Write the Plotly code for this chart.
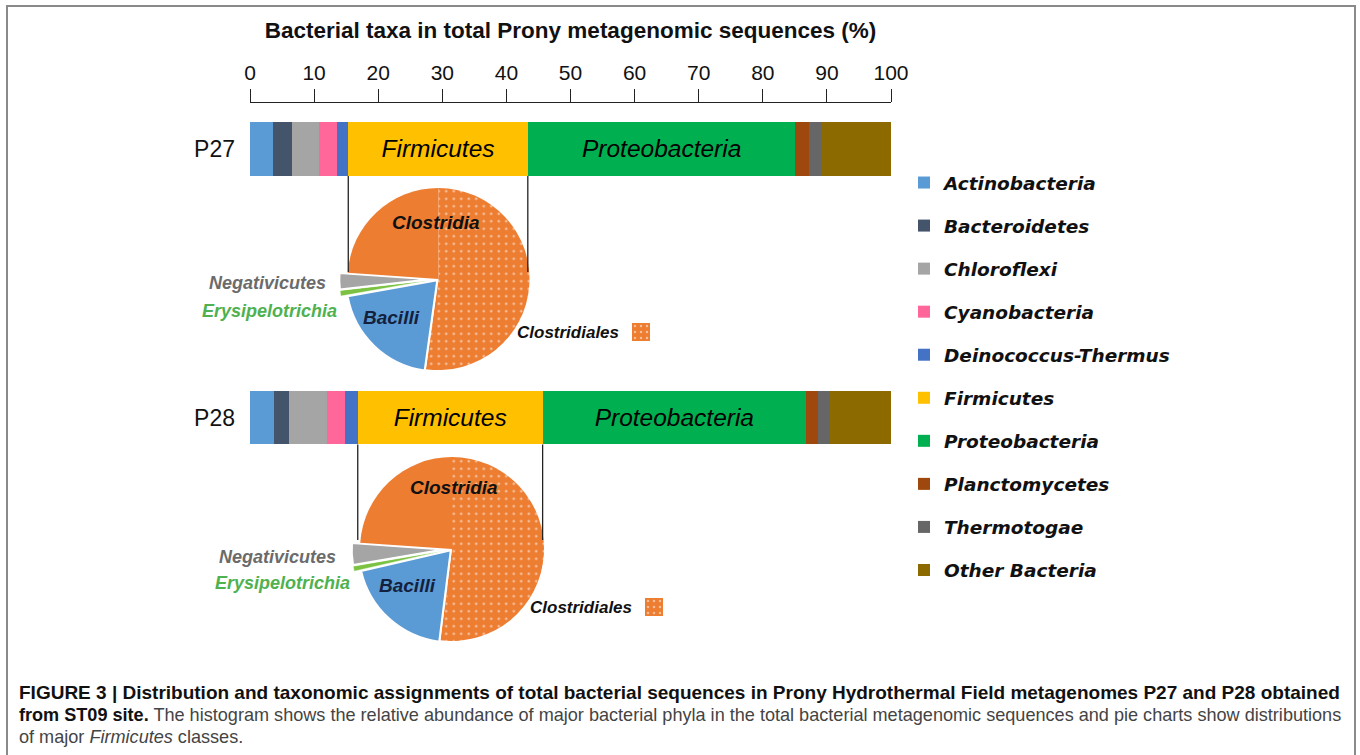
import plotly.graph_objects as go

W, H = 1360, 755

# ---------------- data ----------------
categories = ["P27", "P28"]
phyla = ["Actinobacteria", "Bacteroidetes", "Chloroflexi", "Cyanobacteria",
         "Deinococcus-Thermus", "Firmicutes", "Proteobacteria", "Planctomycetes",
         "Thermotogae", "Other Bacteria"]
p27_values = [3.65, 2.87, 4.22, 2.87, 1.72, 28.01, 41.76, 2.15, 1.79, 10.96]
p28_values = [3.77, 2.39, 5.87, 2.83, 1.95, 28.84, 41.09, 1.81, 1.88, 9.57]
phylum_colors = ["#5B9BD5", "#44546A", "#A5A5A5", "#FF6699", "#4472C4",
                 "#FFC000", "#00B050", "#9E480E", "#666666", "#8C6A00"]
bar_labels = {"Firmicutes": "Firmicutes", "Proteobacteria": "Proteobacteria"}

pie_classes = ["Clostridiales", "Bacilli", "Erysipelotrichia", "Negativicutes", "Clostridia"]
p27_pie = [52.2, 20.0, 1.0, 2.9, 23.9]
p28_pie = [52.0, 19.4, 0.9, 3.8, 23.9]
pie_colors = ["#ED7D31", "#5B9BD5", "#7CC242", "#A5A5A5", "#ED7D31"]

tick_vals = [0, 10, 20, 30, 40, 50, 60, 70, 80, 90, 100]
axis_title = "Bacterial taxa in total Prony metagenomic sequences (%)"

caption_1 = "<span style='color:#111111'><b>FIGURE 3 | Distribution and taxonomic assignments of total bacterial sequences in Prony Hydrothermal Field metagenomes P27 and P28 obtained</b></span>"
caption_2 = "<span style='color:#111111'><b>from ST09 site.</b></span> The histogram shows the relative abundance of major bacterial phyla in the total bacterial metagenomic sequences and pie charts show distributions"
caption_3 = "of major <i>Firmicutes</i> classes."

FONT = "Liberation Sans, Arial, sans-serif"


def px(x):
    return x / W


def py(y):
    return 1 - y / H


fig = go.Figure()

# ---------------- stacked bars ----------------
y_pos = [1, 0]
for i, name in enumerate(phyla):
    txt = bar_labels.get(name, "")
    fig.add_trace(go.Bar(
        y=y_pos, x=[p27_values[i], p28_values[i]], orientation="h",
        name=name, legendgroup=name, marker=dict(color=phylum_colors[i], line=dict(width=0)),
        width=0.201, text=[txt, txt] if txt else None,
        textposition="inside" if txt else "none", insidetextanchor="middle",
        textfont=dict(family=FONT, size=24.5, color="black", style="italic"),
        hoverinfo="skip", xaxis="x", yaxis="y",
    ))

# ---------------- pies ----------------
line_w = [0, 2, 0.5, 2, 0]
pattern_shapes = [".", "", "", "", ""]
pull = [0, 0.02, 0.09, 0.09, 0]


def pie_domain(cx, cy, r, maxpull):
    half = r * (1 + maxpull)
    return dict(x=[px(cx - half), px(cx + half)], y=[py(cy + half), py(cy - half)])


for vals, dom in [(p27_pie, pie_domain(438.5, 279, 91, 0.09)),
                  (p28_pie, pie_domain(452, 549, 92, 0.09))]:
    fig.add_trace(go.Pie(
        labels=pie_classes, values=vals, sort=False, direction="clockwise", rotation=0,
        domain=dom, pull=pull, textinfo="none", hoverinfo="skip", showlegend=False,
        marker=dict(colors=pie_colors, line=dict(color="white", width=line_w),
                    pattern=dict(shape=pattern_shapes, fgcolor="white", bgcolor=pie_colors,
                                 fillmode="overlay", size=7.5, solidity=0.11)),
    ))

# ---------------- Clostridiales key boxes (patterned bars) ----------------
for k, (x0, x1, y0, y1) in enumerate([(632, 650, 323, 341), (645, 663, 598, 616)]):
    ax = k + 2
    fig.add_trace(go.Bar(
        x=[0], y=[1], width=1, showlegend=False, hoverinfo="skip",
        marker=dict(color="#ED7D31", line=dict(width=0),
                    pattern=dict(shape=".", fgcolor="white", size=6, solidity=0.14)),
        xaxis=f"x{ax}", yaxis=f"y{ax}",
    ))
    fig.update_layout(**{
        f"xaxis{ax}": dict(domain=[px(x0), px(x1)], range=[-0.5, 0.5], visible=False,
                           anchor=f"y{ax}", automargin=False),
        f"yaxis{ax}": dict(domain=[py(y1), py(y0)], range=[0, 1], visible=False,
                           anchor=f"x{ax}", automargin=False),
    })

# ---------------- connector lines ----------------
firm_idx = phyla.index("Firmicutes")
shapes = []
for vals, yc, yend in [(p27_values, 1, 0.542), (p28_values, 0, -0.456)]:
    left = sum(vals[:firm_idx])
    right = sum(vals[:firm_idx + 1])
    for xv in (left, right):
        shapes.append(dict(type="line", xref="x", yref="y", x0=xv, x1=xv,
                           y0=yc - 0.1005, y1=yend, line=dict(color="#222222", width=1.3)))

# figure frame
shapes.append(dict(type="rect", xref="paper", yref="paper", x0=px(7), x1=px(1355),
                   y0=-0.05, y1=py(6), line=dict(color="#8a8a8a", width=2), layer="below"))

# ---------------- annotations ----------------
ann = []


def label(text, x, y, size, color, xanchor="center", bold=True, italic=True):
    t = text
    if italic:
        t = f"<i>{t}</i>"
    if bold:
        t = f"<b>{t}</b>"
    ann.append(dict(text=t, x=px(x), y=py(y), xref="paper", yref="paper", showarrow=False,
                    xanchor=xanchor, yanchor="middle",
                    font=dict(family=FONT, size=size, color=color)))


# P27 pie labels
label("Clostridia", 436, 223, 19, "#111111")
label("Bacilli", 392, 317, 19, "#14213d")
label("Negativicutes", 328, 283, 18, "#6b6b6b", xanchor="right")
label("Erysipelotrichia", 339, 311, 18, "#4fb14f", xanchor="right")
label("Clostridiales", 621, 332, 17, "#111111", xanchor="right")
# P28 pie labels
label("Clostridia", 454, 487, 19, "#111111")
label("Bacilli", 407, 585, 19, "#14213d")
label("Negativicutes", 338, 557, 18, "#6b6b6b", xanchor="right")
label("Erysipelotrichia", 352, 583, 18, "#4fb14f", xanchor="right")
label("Clostridiales", 634, 607, 17, "#111111", xanchor="right")

# caption
for text, yy, sz in [(caption_1, 692, 19.0), (caption_2, 715, 18.1), (caption_3, 737, 18.1)]:
    ann.append(dict(text=text, x=px(17), y=py(yy), xref="paper", yref="paper", showarrow=False,
                    xanchor="left", yanchor="middle",
                    font=dict(family=FONT, size=sz, color="#444444")))

fig.update_layout(
    width=W, height=H, margin=dict(l=0, r=0, t=0, b=0, autoexpand=False),
    paper_bgcolor="white", plot_bgcolor="white",
    barmode="stack",
    showlegend=True,
    xaxis=dict(domain=[px(250), px(891)], range=[0, 100], side="top", automargin=False,
               tickvals=tick_vals, ticks="outside", ticklen=13, tickwidth=1.3, tickcolor="#222222",
               showline=True, linecolor="#222222", linewidth=1.3, showgrid=False, zeroline=False,
               tickfont=dict(family=FONT, size=21, color="#111111"),
               title=dict(text=axis_title, standoff=16,
                          font=dict(family=FONT, size=22.5, color="#111111", weight="bold")),
               anchor="y", fixedrange=True),
    yaxis=dict(domain=[py(551.75), py(103)], range=[-0.5, 1.1713], automargin=False,
               tickvals=y_pos, ticktext=categories, ticks="", showgrid=False, zeroline=False,
               showline=False, ticklabelstandoff=14,
               tickfont=dict(family=FONT, size=23, color="#111111"),
               anchor="x", fixedrange=True),
    legend=dict(x=px(904), y=py(164), xanchor="left", yanchor="top", traceorder="grouped",
                tracegroupgap=16, bgcolor="rgba(0,0,0,0)",
                font=dict(family="DejaVu Sans, sans-serif", size=18.5, color="#111111",
                          weight="bold", style="italic")),
    shapes=shapes, annotations=ann,
)

fig.write_html("out.html", config={"displayModeBar": False},
               post_script="document.body.style.margin='0px';")
